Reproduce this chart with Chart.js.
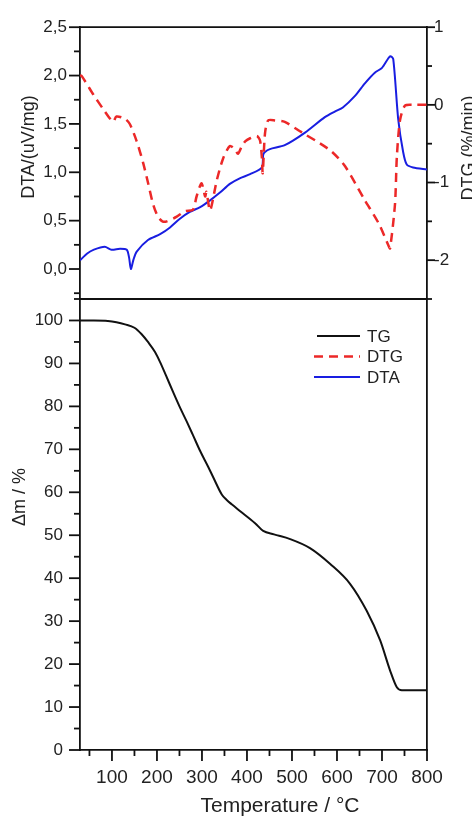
<!DOCTYPE html>
<html>
<head>
<meta charset="utf-8">
<script src="https://cdn.jsdelivr.net/npm/chart.js@4.4.1/dist/chart.umd.min.js"></script>
<style>
  html, body { margin: 0; padding: 0; background: #fff; }
</style>
</head>
<body>
<canvas id="grafico" width="472" height="819"></canvas>
<script>
// TG curve (mass loss, %)
const tempTG = [29, 60, 91, 110, 129, 150, 166, 180, 196, 207, 220, 236, 250, 266, 280, 296, 314, 325, 344, 355, 366, 385, 418, 436, 460, 496, 540, 585, 629, 666, 696, 718, 733, 744, 770, 800];
const massTG = [100, 100, 99.9, 99.6, 99.1, 98.3, 96.8, 95.0, 92.6, 90.3, 87.2, 83.3, 80.0, 76.5, 73.3, 69.6, 65.9, 63.5, 59.5, 58.2, 57.2, 55.6, 52.8, 51.0, 50.2, 49.1, 47.0, 43.3, 38.7, 32.4, 25.5, 18.5, 14.6, 13.9, 13.9, 13.9];

// DTG curve (%/min)
const tempDTG = [29, 33, 60, 80, 96, 103, 110, 129, 140, 155, 169, 180, 191, 202, 212, 222, 244, 262, 280, 288, 299, 307, 310, 318, 333, 347, 362, 373, 380, 388, 396, 407, 422, 429, 433, 435, 440, 447, 462, 484, 515, 529, 555, 588, 618, 662, 693, 715, 718, 729, 733, 740, 751, 770, 800];
const valDTG = [0.38, 0.37, 0.12, -0.05, -0.18, -0.22, -0.15, -0.18, -0.25, -0.47, -0.74, -1.0, -1.27, -1.44, -1.5, -1.5, -1.44, -1.37, -1.35, -1.18, -1.01, -1.18, -1.12, -1.36, -0.97, -0.69, -0.53, -0.57, -0.63, -0.54, -0.47, -0.43, -0.4, -0.46, -0.67, -0.88, -0.37, -0.2, -0.2, -0.22, -0.33, -0.38, -0.47, -0.6, -0.79, -1.23, -1.53, -1.82, -1.85, -1.27, -0.67, -0.2, -0.01, 0, 0];

// DTA curve (uV/mg)
const tempDTA = [29, 45, 60, 84, 99, 118, 133, 138, 142, 148, 155, 180, 207, 229, 251, 273, 296, 318, 340, 362, 385, 407, 433, 436, 440, 451, 484, 529, 573, 596, 613, 640, 662, 684, 700, 718, 725, 736, 747, 755, 769, 800];
const valDTA = [0.09, 0.16, 0.2, 0.23, 0.2, 0.21, 0.2, 0.12, 0.0, 0.1, 0.18, 0.30, 0.36, 0.43, 0.52, 0.59, 0.64, 0.71, 0.79, 0.88, 0.94, 0.98, 1.05, 1.18, 1.21, 1.24, 1.28, 1.41, 1.57, 1.63, 1.67, 1.79, 1.92, 2.03, 2.08, 2.2, 2.17, 1.55, 1.21, 1.08, 1.05, 1.03];

// ticks
const tempTicks = [100, 200, 300, 400, 500, 600, 700, 800];
const tgTicks = [0, 10, 20, 30, 40, 50, 60, 70, 80, 90, 100];
const dtaTicks = [0, 0.5, 1, 1.5, 2, 2.5];
const dtgTicks = [-2, -1, 0, 1];

const FONTE = "'Liberation Sans', Arial, sans-serif";
const COR_TEXTO = '#222';

function pontos(xs, ys) {
    return xs.map((x, i) => ({x: x, y: ys[i]}));
}

function fixarTicks(lista) {
    return function (scale) {
        scale.ticks = lista.map(v => ({value: v}));
    };
}

// minor step per axis (half of the major step)
const passoMenor = {x: 50, yTG: 5, yDTA: 0.25, yDTG: 0.5};

const pluginEixos = {
    id: 'eixos',
    afterDraw(chart) {
        const ctx = chart.ctx;
        const area = chart.chartArea;
        const s = chart.scales;

        ctx.save();
        ctx.strokeStyle = '#111';
        ctx.lineWidth = 1.8;

        // top border and panel separator
        ctx.beginPath();
        ctx.moveTo(area.left, s.yDTA.top);
        ctx.lineTo(area.right, s.yDTA.top);
        ctx.moveTo(area.left, s.yDTA.bottom);
        ctx.lineTo(area.right, s.yDTA.bottom);
        ctx.stroke();

        // tick marks, major and minor
        Object.keys(passoMenor).forEach(function (id) {
            const sc = s[id];
            const passo = passoMenor[id];
            const majors = sc.ticks.map(t => t.value);
            const n0 = Math.ceil(sc.min / passo - 1e-6);
            const n1 = Math.floor(sc.max / passo + 1e-6);
            for (let n = n0; n <= n1; n++) {
                const v = +(n * passo).toFixed(4);
                const major = majors.some(m => Math.abs(m - v) < 1e-6);
                const p = sc.getPixelForValue(v);
                ctx.beginPath();
                if (id === 'x') {
                    const len = major ? 11 : 6;
                    ctx.moveTo(p, sc.top);
                    ctx.lineTo(p, sc.top + len);
                } else if (sc.position === 'left') {
                    const len = major ? 11 : 6;
                    ctx.moveTo(sc.right, p);
                    ctx.lineTo(sc.right - len, p);
                } else {
                    const len = major ? 8 : 5;
                    ctx.moveTo(sc.left, p);
                    ctx.lineTo(sc.left + len, p);
                }
                ctx.stroke();
            }
        });

        // axis titles
        ctx.fillStyle = COR_TEXTO;
        ctx.textAlign = 'center';
        ctx.textBaseline = 'middle';

        ctx.font = '21px ' + FONTE;
        ctx.fillText('Temperature / °C', 280, 806);

        ctx.font = '18px ' + FONTE;
        [['DTA/(uV/mg)', 29, 147], ['\u0394m / %', 20, 497], ['DTG (%/min)', 469, 148]].forEach(function (t) {
            ctx.save();
            ctx.translate(t[1], t[2]);
            ctx.rotate(-Math.PI / 2);
            ctx.fillText(t[0], 0, 0);
            ctx.restore();
        });

        // legend inside the lower panel
        const topo = s.yTG.top;
        ctx.font = '17px ' + FONTE;
        ctx.textAlign = 'left';
        chart.data.datasets.forEach(function (ds, i) {
            const y = topo + 37 + i * 20.5;
            ctx.save();
            ctx.strokeStyle = ds.borderColor;
            ctx.lineWidth = ds.borderWidth;
            ctx.setLineDash(ds.borderDash || []);
            ctx.beginPath();
            ctx.moveTo(area.right - (i === 0 ? 110 : 113), y);
            ctx.lineTo(area.right - 67, y);
            ctx.stroke();
            ctx.restore();
            ctx.fillText(ds.label, area.right - 60, y + 1);
        });

        ctx.restore();
    }
};

function eixoY(extra) {
    return Object.assign({
        grid: {display: false, drawTicks: false},
        border: {display: true, color: '#111', width: 1.8},
        ticks: {color: COR_TEXTO, font: {family: FONTE, size: 17}}
    }, extra);
}

const grafico = new Chart(document.getElementById('grafico').getContext('2d'), {
    type: 'line',
    data: {
        datasets: [
            {
                label: 'TG',
                data: pontos(tempTG, massTG),
                yAxisID: 'yTG',
                borderColor: '#111',
                borderWidth: 2,
                pointRadius: 0,
                cubicInterpolationMode: 'monotone'
            },
            {
                label: 'DTG',
                data: pontos(tempDTG, valDTG),
                yAxisID: 'yDTG',
                borderColor: 'rgb(236, 40, 40)',
                borderWidth: 2.5,
                borderDash: [9, 6],
                pointRadius: 0,
                tension: 0.25
            },
            {
                label: 'DTA',
                data: pontos(tempDTA, valDTA),
                yAxisID: 'yDTA',
                borderColor: 'rgb(25, 30, 225)',
                borderWidth: 2,
                pointRadius: 0,
                tension: 0.25
            }
        ]
    },
    options: {
        responsive: false,
        animation: false,
        layout: {padding: {top: 24, left: 0, right: 0, bottom: 0}},
        plugins: {
            legend: {display: false},
            tooltip: {enabled: false}
        },
        scales: {
            x: {
                type: 'linear',
                position: 'bottom',
                min: 29,
                max: 800,
                grid: {display: false, drawTicks: false},
                border: {display: true, color: '#111', width: 1.8},
                ticks: {color: COR_TEXTO, font: {family: FONTE, size: 19}, padding: 16, maxRotation: 0},
                afterBuildTicks: fixarTicks(tempTicks),
                afterFit: s => { s.height = 69; }
            },
            yTG: eixoY({
                position: 'left',
                stack: 'esq',
                stackWeight: 453,
                min: 0,
                max: 105,
                afterBuildTicks: fixarTicks(tgTicks),
                afterFit: s => { s.width = 80; },
                ticks: {color: COR_TEXTO, font: {family: FONTE, size: 17}, padding: 17}
            }),
            yDTA: eixoY({
                position: 'left',
                stack: 'esq',
                stackWeight: 273,
                min: -0.31,
                max: 2.5,
                afterBuildTicks: fixarTicks(dtaTicks),
                afterFit: s => { s.width = 80; },
                ticks: {
                    color: COR_TEXTO, font: {family: FONTE, size: 17}, padding: 13,
                    callback: v => v.toFixed(1).replace('.', ',')
                }
            }),
            yDTG: eixoY({
                position: 'right',
                stack: 'dir',
                stackWeight: 273,
                min: -2.5,
                max: 1,
                afterBuildTicks: fixarTicks(dtgTicks),
                afterFit: s => { s.width = 45; },
                ticks: {
                    color: COR_TEXTO, font: {family: FONTE, size: 17}, padding: 7,
                    callback: v => String(v)
                }
            }),
            yR2: eixoY({
                position: 'right',
                stack: 'dir',
                stackWeight: 453,
                min: 0,
                max: 1,
                afterFit: s => { s.width = 45; },
                ticks: {display: false}
            })
        }
    },
    plugins: [pluginEixos]
});
</script>
</body>
</html>
